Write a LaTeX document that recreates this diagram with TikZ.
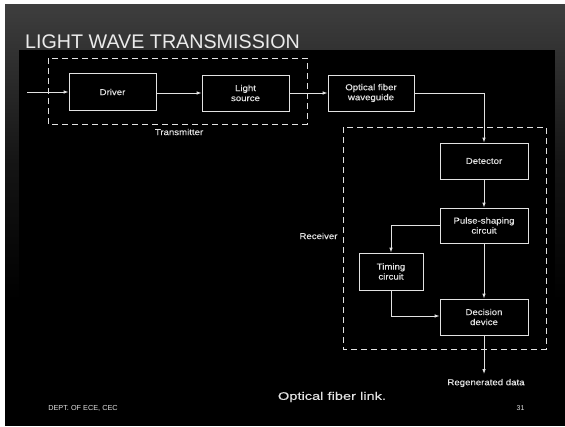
\documentclass[tikz,border=0pt]{standalone}
\usepackage{fontspec}
\setmainfont{Liberation Sans}
\newfontfamily\scanfont[FakeStretch=1.12,FakeBold=0.3]{Liberation Sans}
\newfontfamily\capfont[FakeStretch=1.33,FakeBold=0.3]{Liberation Sans}
\usetikzlibrary{arrows.meta,calc}
\definecolor{ink}{HTML}{E2E2E2}
\definecolor{slidetop}{HTML}{3E3E3E}
\definecolor{slidemid}{HTML}{151515}
\tikzset{
  blk/.style={draw=ink, line width=0.9pt, text=ink, font=\scanfont\fontsize{8.6}{10}\selectfont, align=center, inner sep=0pt},
  grp/.style={draw=ink, line width=0.9pt, dash pattern=on 6pt off 4pt},
  con/.style={draw=ink, line width=0.9pt, -{Latex[length=5pt,width=3.6pt]}},
  lbl/.style={text=ink, font=\scanfont\fontsize{8.6}{10}\selectfont, inner sep=0pt},
}
\begin{document}
\begin{tikzpicture}[x=1pt,y=-1pt]
\useasboundingbox (0,0) rectangle (565,426);
% slide background
\fill[white] (0,0) rectangle (565,426);
\shade[top color=slidetop, bottom color=slidemid] (5,4) rectangle (565,160);
\shade[top color=slidemid, bottom color=black] (5,159.5) rectangle (565,300);
\fill[black] (5,299.5) rectangle (565,426);
% scanned image area
\fill[black] (19,50) rectangle (555,426);
% title
\node[anchor=base west, inner sep=0pt, text=white!92!black, font=\fontsize{19.7}{22}\selectfont] (title) at (25,48) {LIGHT WAVE TRANSMISSION};
% group boxes
\draw[grp] (48,58) rectangle (307,124);
\draw[grp] (343,127) rectangle (546,349);
\node[lbl] (txl) at (179,132) {Transmitter};
\node[lbl] (rxl) at (318.5,236) {Receiver};
% blocks
\node[blk, minimum width=87pt, minimum height=37pt] (driver) at (112.5,92) {Driver};
\node[blk, minimum width=87pt, minimum height=36pt] (light) at (245.5,93) {Light\\source};
\node[blk, minimum width=86pt, minimum height=36pt] (fiber) at (371,93) {Optical fiber\\waveguide};
\node[blk, minimum width=88pt, minimum height=36pt] (detector) at (484,161) {Detector};
\node[blk, minimum width=88pt, minimum height=35pt] (pulse) at (484,225.5) {Pulse-shaping\\circuit};
\node[blk, minimum width=64pt, minimum height=37pt] (timing) at (391,271.5) {Timing\\circuit};
\node[blk, minimum width=88pt, minimum height=36pt] (decision) at (484,317) {Decision\\device};
% free ends
\coordinate (in) at (27,92);
\coordinate (out) at (484,374);
\node[lbl] (regen) at (486,383) {Regenerated data};
% connectors
\draw[con] (in) -- (driver.west);
\draw[con] (driver.east |- light.west) -- (light.west);
\draw[con] (light.east) -- (fiber.west);
\draw[con] (fiber.east) -| (detector.north);
\draw[con] (detector.south) -- (pulse.north);
\draw[con] (pulse.west) -| (timing.north);
\draw[con] (pulse.south) -- (decision.north);
\draw[con] ([yshift=-1pt]timing.south) |- ([yshift=1pt]decision.west);
\draw[con] (decision.south) -- (out);
% captions
\node[text=ink, inner sep=0pt, font=\capfont\fontsize{11}{13}\selectfont] (caption) at (332,397) {Optical fiber link.};
\node[text=ink, inner sep=0pt, font=\fontsize{7.3}{8}\selectfont] (dept) at (83,408) {DEPT. OF ECE, CEC};
\node[text=ink, inner sep=0pt, font=\fontsize{7}{8}\selectfont] (pg) at (520.5,408) {31};
\end{tikzpicture}
\end{document}
